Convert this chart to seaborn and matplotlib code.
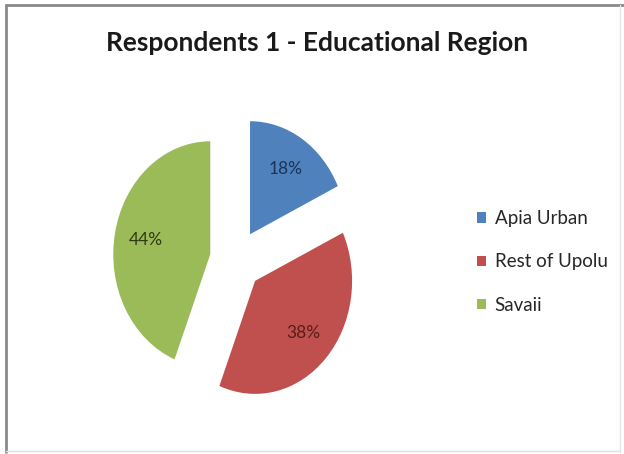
import numpy as np
import pandas as pd
import matplotlib
matplotlib.use('Agg')
import matplotlib.pyplot as plt
from matplotlib.lines import Line2D
import seaborn as sns

# ── Data ──────────────────────────────────────────────────────────────────────
regions = ['Apia Urban', 'Rest of Upolu', 'Savaii']
shares = [18, 38, 44]
slice_colors = ['#4F81BD', '#C0504D', '#9BBB59']
label_colors = ['#1B3358', '#5A1C1A', '#2E3A14']

# ── Style ─────────────────────────────────────────────────────────────────────
sns.set_theme(style='white')
plt.rcParams['font.family'] = ['Lato', 'DejaVu Sans']
palette = sns.color_palette(slice_colors)

W, H = 624, 454
fig = plt.figure(figsize=(W / 100, H / 100), dpi=100)
fig.patch.set_facecolor('white')

# pie axes: 1 data unit = 97 px across, 113 px down (stretched like the source)
cx, cy, rx, ry = 236, 260, 97, 113
ax = fig.add_axes([(cx - 1.5 * rx) / W, (H - cy - 1.5 * ry) / H,
                   3 * rx / W, 3 * ry / H])

wedges, texts, autotexts = ax.pie(
    shares, colors=palette, explode=[0.27] * len(shares),
    startangle=90, counterclock=False, autopct='%1.0f%%',
    pctdistance=0.68, wedgeprops=dict(linewidth=0),
    textprops=dict(fontsize=12.5))
for t, c in zip(autotexts, label_colors):
    t.set_color(c)
ax.set_aspect('auto')
ax.set_xlim(-1.5, 1.5)
ax.set_ylim(-1.5, 1.5)
ax.axis('off')

fig.suptitle('Respondents 1 - Educational Region', x=317 / W, y=1 - 31 / H,
             fontsize=19, fontweight='bold', color='#1a1a1a')

fig.legend(wedges, regions, loc='center left',
           bbox_to_anchor=(460 / W, 1 - 262 / H), frameon=False,
           fontsize=13.5, handlelength=0.5, handleheight=0.5,
           handletextpad=0.45, labelspacing=1.4, labelcolor='#262626')

# frame (screenshot border)
fig.add_artist(Line2D([6 / W, 6 / W], [2 / H, 1 - 5 / H], transform=fig.transFigure,
                      color='#8a8a8a', lw=2))
fig.add_artist(Line2D([6 / W, 1], [1 - 5 / H, 1 - 5 / H], transform=fig.transFigure,
                      color='#8a8a8a', lw=2))
fig.add_artist(Line2D([620 / W, 620 / W], [2 / H, 1 - 5 / H], transform=fig.transFigure,
                      color='#e6e6e6', lw=1))
fig.add_artist(Line2D([6 / W, 620 / W], [3 / H, 3 / H], transform=fig.transFigure,
                      color='#e0e0e0', lw=1))

fig.savefig('out.png', dpi=100, facecolor='white')
